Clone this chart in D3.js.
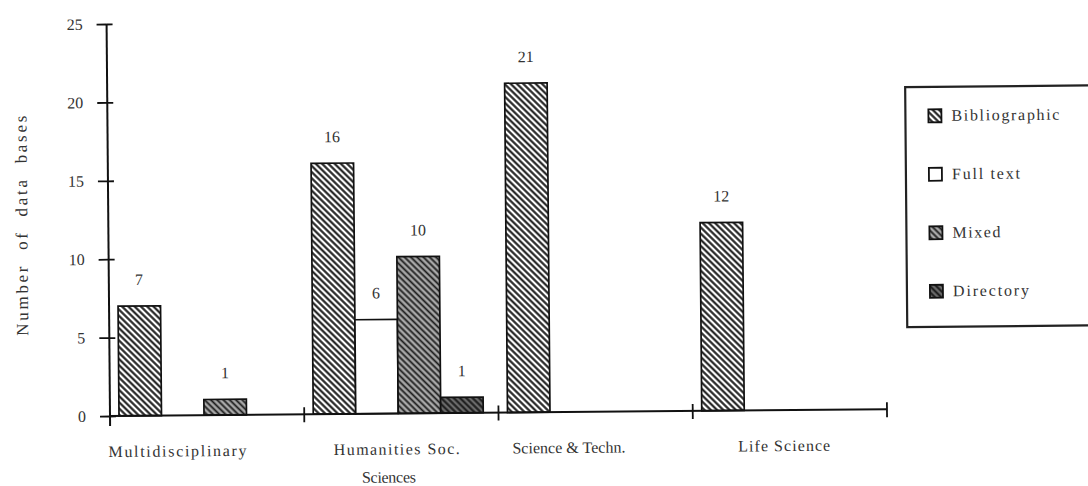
<!DOCTYPE html>
<html>
<head>
<meta charset="utf-8">
<script src="https://cdn.jsdelivr.net/npm/d3@7"></script>
<style>
  html, body { margin: 0; padding: 0; background: #fff; }
  svg { display: block; }
  text { font-family: "Liberation Serif", "DejaVu Serif", serif; fill: #333; }
</style>
</head>
<body>
<svg id="chart" width="1088" height="486"></svg>
<script>
// Number of data bases by subject area and type
const categories = ["Multidisciplinary", "Humanities Soc. Sciences", "Science & Techn.", "Life Science"];
const categoryLines = [["Multidisciplinary"], ["Humanities Soc.", "Sciences"], ["Science & Techn."], ["Life Science"]];
const seriesNames = ["Bibliographic", "Full text", "Mixed", "Directory"];
const bibliographic = [7, 16, 21, 12];
const fullText = [0, 6, 0, 0];
const mixed = [1, 10, 0, 0];
const directory = [0, 1, 0, 0];
const yTicks = [0, 5, 10, 15, 20, 25];
const yTitle = "Number  of  data  bases";

const seriesValues = [bibliographic, fullText, mixed, directory];
const seriesFill = ["url(#hatch-bib)", "#ffffff", "url(#hatch-mixed)", "url(#hatch-dir)"];

// layout
const originX = 110, originY = 416, topY = 24, endX = 887;
const labelDx = [-30, -5, -27, -6];
const legendX = 908, legendY = 94, legendRowStart = 123, legendRowStep = 58.5;
const legendTextWidth = [108, 68, 48, 76];
const catTextWidth = [[138], [126, 54], [113], [92]];

const svg = d3.select("#chart");
const defs = svg.append("defs");

function hatch(id, bg, stroke, sw, size) {
  const p = defs.append("pattern")
    .attr("id", id)
    .attr("patternUnits", "userSpaceOnUse")
    .attr("width", size).attr("height", size)
    .attr("patternTransform", "rotate(-45)");
  p.append("rect").attr("width", size).attr("height", size).attr("fill", bg);
  p.append("line").attr("x1", size / 2).attr("x2", size / 2)
    .attr("y1", 0).attr("y2", size)
    .attr("stroke", stroke).attr("stroke-width", sw);
}
hatch("hatch-bib", "#ffffff", "#1a1a1a", 2.1, 4.4);
hatch("hatch-mixed", "#a8a8a8", "#1e1e1e", 1.8, 4.4);
hatch("hatch-dir", "#6a6a6a", "#1a1a1a", 2.0, 4.4);

// whole figure sits slightly tilted
const g = svg.append("g").attr("transform", `rotate(-0.5, ${originX}, ${originY})`);

const x0 = d3.scaleBand().domain(categories).range([originX, endX]).paddingInner(0).paddingOuter(0);
const x1 = d3.scaleBand().domain(seriesNames).range([9, 179]).padding(0);
const y = d3.scaleLinear().domain([0, 25]).range([originY, topY]);

// bars
const barData = [];
categories.forEach((c, ci) => {
  seriesNames.forEach((s, si) => {
    barData.push({ c, s, si, v: seriesValues[si][ci] });
  });
});
const shown = barData.filter(d => d.v > 0);

g.append("g").selectAll("rect").data(shown).join("rect")
  .attr("x", d => x0(d.c) + x1(d.s))
  .attr("y", d => y(d.v))
  .attr("width", x1.bandwidth())
  .attr("height", d => y(0) - y(d.v))
  .attr("fill", d => seriesFill[d.si])
  .attr("stroke", "#111")
  .attr("stroke-width", 1.7);

// value labels
g.append("g").selectAll("text").data(shown).join("text")
  .attr("x", d => x0(d.c) + x1(d.s) + x1.bandwidth() / 2)
  .attr("y", d => y(d.v) - 21)
  .attr("text-anchor", "middle")
  .attr("font-size", 16)
  .attr("fill", d => d.c === categories[0] ? "#777" : "#333")
  .text(d => d.v);

// y axis
const yAxis = d3.axisLeft(y).tickValues(yTicks).tickSize(10).tickPadding(14);
const yg = g.append("g").attr("transform", `translate(${originX},0)`).call(yAxis);
yg.select(".domain").remove();
yg.selectAll(".tick line").attr("stroke", "#111").attr("stroke-width", 1.8);
yg.selectAll(".tick").append("line")
  .attr("x1", 0).attr("x2", 6).attr("stroke", "#111").attr("stroke-width", 1.8);
yg.selectAll(".tick text")
  .attr("font-family", "Liberation Serif, serif")
  .attr("font-size", 16).attr("fill", "#444");
g.append("line")
  .attr("x1", originX).attr("x2", originX)
  .attr("y1", y(25)).attr("y2", originY + 10)
  .attr("stroke", "#111").attr("stroke-width", 2);

// x axis
g.append("line")
  .attr("x1", originX).attr("x2", endX)
  .attr("y1", originY).attr("y2", originY)
  .attr("stroke", "#111").attr("stroke-width", 2);
const xTickPos = categories.slice(1).map(c => x0(c)).concat([x0(categories[3]) + x0.bandwidth()]);
g.append("g").selectAll("line").data(xTickPos).join("line")
  .attr("x1", d => d).attr("x2", d => d)
  .attr("y1", originY - 7).attr("y2", originY + 8)
  .attr("stroke", "#111").attr("stroke-width", 1.8);

// category labels
categories.forEach((c, ci) => {
  const cx = x0(c) + x0.bandwidth() / 2 + labelDx[ci];
  categoryLines[ci].forEach((line, li) => {
    g.append("text")
      .attr("x", cx - li * 8)
      .attr("y", originY + 41 + li * 28)
      .attr("text-anchor", "middle")
      .attr("font-size", 16)
      .attr("textLength", catTextWidth[ci][li])
      .attr("lengthAdjust", "spacing")
      .text(line);
  });
});

// y title
g.append("text")
  .attr("transform", "translate(29,225) rotate(-90)")
  .attr("text-anchor", "middle")
  .attr("font-size", 17)
  .attr("fill", "#555")
  .attr("textLength", 220)
  .attr("lengthAdjust", "spacing")
  .style("white-space", "pre")
  .text(yTitle);

// legend
const lg = g.append("g");
lg.append("rect")
  .attr("x", legendX).attr("y", legendY)
  .attr("width", 200).attr("height", 240)
  .attr("fill", "#fff").attr("stroke", "#222").attr("stroke-width", 2.2);
seriesNames.forEach((s, si) => {
  const cy = legendRowStart + si * legendRowStep;
  lg.append("rect")
    .attr("x", legendX + 23).attr("y", cy - 6.5)
    .attr("width", 13).attr("height", 13)
    .attr("fill", seriesFill[si])
    .attr("stroke", "#111").attr("stroke-width", 1.8);
  lg.append("text")
    .attr("x", legendX + 46).attr("y", cy + 5)
    .attr("font-size", 16)
    .attr("textLength", legendTextWidth[si])
    .attr("lengthAdjust", "spacing")
    .text(s);
});
</script>
</body>
</html>
